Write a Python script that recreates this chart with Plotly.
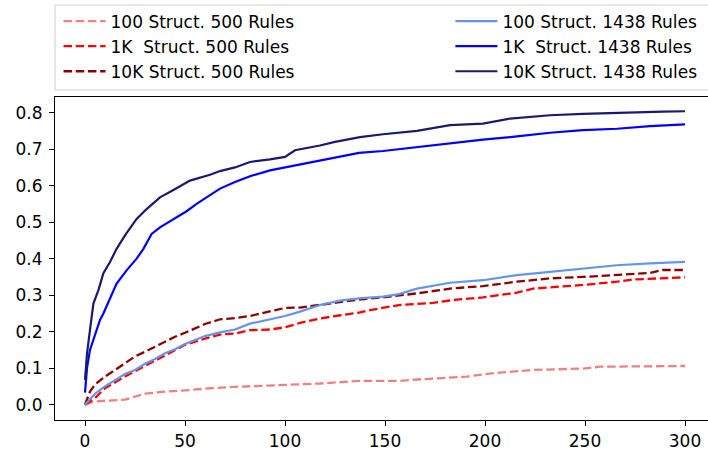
import plotly.graph_objects as go

names = ["100 Struct. 500 Rules", "1K\u00a0 Struct. 500 Rules", "10K Struct. 500 Rules",
         "100 Struct. 1438 Rules", "1K\u00a0 Struct. 1438 Rules", "10K Struct. 1438 Rules"]
colors = ["#F08080", "#FF0000", "#8B0000", "#6495ED", "#0000FF", "#191970"]
dashes = ["8.5px,3.7px"] * 3 + ["solid"] * 3
widths = [2.3, 2.3, 2.3, 2.2, 2.2, 2.2]
legend_ids = ["legend", "legend", "legend", "legend2", "legend2", "legend2"]

x_100_500 = [0, 5, 20, 25, 30, 40, 50, 62.5, 75, 100, 117.5, 137, 157, 166, 174, 191, 199, 207.5, 224, 249, 257.5, 300]
y_100_500 = [0, 0.009, 0.014, 0.021, 0.03, 0.036, 0.039, 0.045, 0.049, 0.054, 0.058, 0.065, 0.065, 0.069, 0.072, 0.077, 0.083, 0.088, 0.095, 0.099, 0.104, 0.106]

x_1k_500 = [0, 5, 10, 20, 30, 40, 50, 60, 67.5, 75, 82.5, 92.5, 100, 107.5, 117.5, 127.5, 137, 142.5, 157, 174, 186, 199, 216, 224, 232.5, 249, 266, 274, 300]
y_1k_500 = [0, 0.018, 0.045, 0.077, 0.106, 0.134, 0.164, 0.181, 0.192, 0.195, 0.204, 0.206, 0.212, 0.224, 0.236, 0.245, 0.252, 0.259, 0.273, 0.279, 0.288, 0.294, 0.307, 0.318, 0.321, 0.328, 0.337, 0.343, 0.349]

x_10k_500 = [0, 2.5, 5, 10, 15, 20, 25, 30, 35, 40, 45, 50, 55, 60, 67.5, 75, 82.5, 92.5, 100, 107.5, 117.5, 127.5, 137, 149, 166, 182.5, 199, 216, 232.5, 249, 266, 282.5, 289, 300]
y_10k_500 = [0, 0.036, 0.055, 0.077, 0.095, 0.114, 0.132, 0.145, 0.159, 0.173, 0.186, 0.197, 0.209, 0.221, 0.234, 0.237, 0.243, 0.255, 0.265, 0.266, 0.273, 0.282, 0.288, 0.294, 0.305, 0.318, 0.325, 0.337, 0.346, 0.35, 0.355, 0.361, 0.369, 0.369]

x_100_1438 = [0, 5, 10, 15, 20, 25, 30, 35, 40, 45, 50, 55, 60, 67.5, 75, 82.5, 92.5, 100, 107.5, 117.5, 127.5, 137, 149, 157, 166, 182.5, 199, 216, 232.5, 249, 266, 282.5, 300]
y_100_1438 = [0, 0.03, 0.05, 0.068, 0.084, 0.095, 0.112, 0.125, 0.141, 0.152, 0.166, 0.177, 0.188, 0.198, 0.206, 0.222, 0.233, 0.243, 0.255, 0.273, 0.285, 0.291, 0.296, 0.303, 0.318, 0.334, 0.341, 0.355, 0.364, 0.373, 0.382, 0.387, 0.391]

x_1k_1438 = [0, 1, 2.5, 5.5, 7.5, 9.2, 12.5, 15.8, 20.8, 25.8, 29.2, 33.3, 37.5, 44.2, 50.8, 55.8, 62.5, 67.5, 75, 82.5, 92.5, 100, 107.5, 117.5, 127.5, 137, 149, 166, 182.5, 199, 216, 232.5, 249, 266, 282.5, 300]
y_1k_1438 = [0.033, 0.1, 0.15, 0.2, 0.232, 0.25, 0.291, 0.332, 0.368, 0.4, 0.427, 0.468, 0.486, 0.509, 0.53, 0.55, 0.573, 0.592, 0.61, 0.626, 0.642, 0.65, 0.659, 0.67, 0.68, 0.69, 0.695, 0.706, 0.717, 0.726, 0.735, 0.745, 0.752, 0.756, 0.763, 0.768]

x_10k_1438 = [0, 1, 2.5, 4.2, 6.7, 9.2, 12.5, 15.8, 20, 25.8, 30.8, 37.5, 44.2, 52.5, 62.5, 67.5, 75, 82.5, 92.5, 100, 105, 117.5, 125, 137.5, 149, 166, 182.5, 199, 212.5, 232.5, 249, 269, 289, 300]
y_10k_1438 = [0.068, 0.14, 0.205, 0.277, 0.314, 0.36, 0.391, 0.427, 0.464, 0.509, 0.536, 0.568, 0.588, 0.614, 0.63, 0.64, 0.65, 0.665, 0.672, 0.679, 0.697, 0.71, 0.72, 0.733, 0.741, 0.75, 0.766, 0.77, 0.784, 0.793, 0.797, 0.801, 0.803, 0.804]

xs = [x_100_500, x_1k_500, x_10k_500, x_100_1438, x_1k_1438, x_10k_1438]
ys = [y_100_500, y_1k_500, y_10k_500, y_100_1438, y_1k_1438, y_10k_1438]

x_ticks = [0, 50, 100, 150, 200, 250, 300]
y_ticks = [0.0, 0.1, 0.2, 0.3, 0.4, 0.5, 0.6, 0.7, 0.8]
y_labels = ["0.0", "0.1", "0.2", "0.3", "0.4", "0.5", "0.6", "0.7", "0.8"]

fig = go.Figure()
for i, (n, c, d, w, lg, x, y) in enumerate(zip(names, colors, dashes, widths, legend_ids, xs, ys)):
    fig.add_trace(go.Scatter(x=x, y=y, mode="lines", name=n, legend=lg, legendgroup=f"g{i}",
                             line=dict(color=c, width=w, dash=d)))

font = dict(family="DejaVu Sans", size=17, color="black")
leg_common = dict(orientation="v", yref="container", y=0.9922, yanchor="top", xanchor="left",
                  bgcolor="rgba(0,0,0,0)", borderwidth=0, font=font, tracegroupgap=6,
                  itemwidth=42, traceorder="normal")

fig.update_layout(
    width=708, height=451,
    margin=dict(l=55, r=0, t=97, b=31),
    plot_bgcolor="white", paper_bgcolor="white",
    font=font,
    showlegend=True,
    legend=dict(x=0.0054, **leg_common),
    legend2=dict(x=0.6055, **leg_common),
    xaxis=dict(range=[-15, 311.5], tickvals=x_ticks, showgrid=False, zeroline=False,
               showline=True, linecolor="black", linewidth=1.2, mirror=True, automargin=False,
               ticks="outside", ticklen=5, tickcolor="black", tickfont=font),
    yaxis=dict(range=[-0.042, 0.843], tickvals=y_ticks, ticktext=y_labels, showgrid=False,
               zeroline=False, showline=True, linecolor="black", linewidth=1.2, automargin=False,
               ticks="outside", ticklen=5, tickcolor="black", tickfont=font, ticklabelstandoff=3),
    shapes=[dict(type="rect", xref="paper", yref="paper", x0=0, x1=1.05, y0=1.0217, y1=1.285,
                 line=dict(color="#d0d0d0", width=1), fillcolor="rgba(0,0,0,0)", layer="below")],
)
fig.write_html("out.html", config={"displayModeBar": False},
               post_script="document.body.style.margin='0';")
